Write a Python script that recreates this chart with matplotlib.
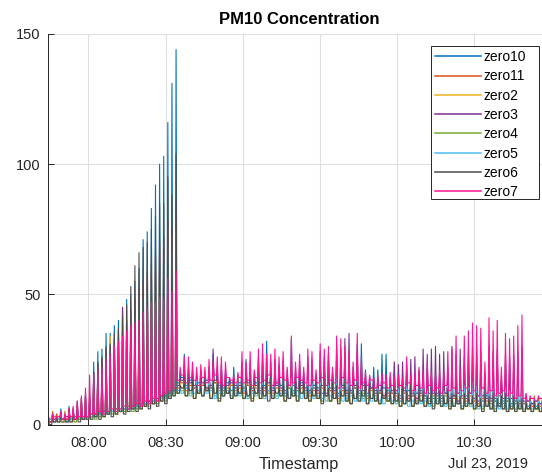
import pandas as pd
import matplotlib
matplotlib.use("Agg")
import matplotlib.pyplot as plt
import matplotlib.dates as mdates
from matplotlib.patches import Rectangle

# Series names and colours (legend order)
names = ["zero10", "zero11", "zero2", "zero3", "zero4", "zero5", "zero6", "zero7"]
colors = ["#0072BD", "#D95319", "#EDB120", "#7E2F8E", "#77AC30", "#4DBEEE", "#4D4D4D", "#FF1493"]

# One cycle every 96 s: background reading (held), then a short spike reading
start_time = pd.Timestamp("2019-07-23 07:43:15")
cycle_s = 96
hold_s = 57
spike_s = 75

zero10_lows = [1, 2, 1, 2, 2, 1, 2, 3, 2, 3,
               3, 3, 4, 4, 5, 4, 5, 6, 5, 6,
               7, 6, 8, 7, 8, 9, 8, 10, 11, 10, 12, 13,
               16, 18, 15, 17, 14, 16, 15, 17, 14, 16, 15, 14, 16, 13, 15,
               16, 14, 15, 13, 16, 14, 15, 13, 14, 16, 15, 13, 14, 15, 13, 16, 14, 13, 15,
               14, 12, 15, 13, 14, 12, 15, 13, 12, 14, 13, 15, 12, 14, 13, 12, 14, 13, 12,
               13, 11, 12, 13, 11, 12, 13, 11, 12, 10, 12, 11, 12, 10, 11, 12, 10, 11, 12,
               10, 11, 9, 11, 10, 9, 11, 10, 9, 10, 8, 9, 8, 9, 8, 9, 8, 9]
zero10_peaks = [3, 4, 4, 6, 5, 7, 6, 8, 10, 12, 10,
                24, 28, 29, 35, 35, 38, 40, 45, 48, 50, 55, 60, 71, 74, 83, 92, 100, 103, 116, 131, 144,
                20, 27, 22, 21, 20, 21, 20, 22, 27, 22, 23, 21, 18, 22, 18,
                24, 25, 24, 20, 25, 27, 32, 24, 25, 23, 25, 21, 33, 21, 24, 20, 26, 25, 19,
                28, 26, 27, 20, 30, 29, 27, 25, 22, 31, 31, 21, 18, 22, 21, 27, 27, 18, 20,
                19, 18, 23, 18, 19, 20, 19, 21, 18, 19, 18, 20, 20, 21, 24, 18, 23, 25, 26,
                26, 25, 18, 27, 25, 27, 17, 24, 23, 24, 26, 28, 11, 10, 9, 10, 9, 10]

zero11_lows = [2, 1, 3, 2, 1, 2, 3, 2, 2, 3,
               3, 3, 4, 4, 4, 5, 5, 6, 5, 6,
               7, 7, 7, 8, 8, 9, 10, 9, 10, 11, 12, 13,
               14, 16, 13, 15, 14, 12, 15, 13, 14, 16, 13, 12, 14, 15, 13,
               14, 12, 15, 13, 14, 12, 13, 15, 12, 14, 13, 11, 14, 12, 13, 14, 12, 11, 13,
               12, 14, 11, 13, 12, 10, 13, 11, 12, 14, 11, 12, 10, 13, 11, 12, 10, 11, 12,
               11, 9, 12, 10, 11, 9, 11, 10, 9, 11, 10, 9, 11, 9, 10, 8, 10, 9, 11,
               9, 8, 10, 9, 8, 9, 7, 8, 9, 7, 8, 7, 8, 6, 7, 6, 7, 6]
zero11_peaks = [3, 5, 4, 5, 4, 6, 5, 7, 8, 10, 9,
                17, 20, 22, 25, 27, 29, 31, 35, 37, 40, 44, 47, 50, 53, 57, 60, 64, 66, 72, 68, 76,
                17, 19, 18, 17, 19, 18, 17, 19, 20, 18, 17, 19, 16, 17, 18,
                19, 17, 18, 16, 19, 18, 17, 19, 16, 17, 19, 18, 20, 17, 18, 16, 19, 18, 17,
                18, 19, 17, 18, 20, 17, 19, 18, 16, 19, 17, 16, 15, 17, 16, 15, 17, 16, 15,
                16, 15, 17, 16, 15, 16, 17, 15, 16, 14, 16, 15, 17, 16, 15, 16, 17, 16, 18,
                17, 16, 15, 17, 16, 18, 14, 16, 15, 17, 16, 18, 11, 10, 11, 10, 11, 12]

zero2_lows = [1, 2, 1, 1, 2, 1, 2, 1, 2, 2,
              2, 3, 3, 4, 3, 4, 5, 4, 5, 5,
              6, 6, 7, 6, 7, 8, 8, 9, 9, 10, 11, 12,
              12, 14, 11, 13, 10, 12, 11, 13, 10, 12, 9, 11, 12, 10, 11,
              12, 10, 11, 9, 12, 10, 11, 13, 10, 12, 11, 9, 10, 11, 9, 12, 10, 9, 11,
              10, 9, 11, 9, 10, 8, 11, 9, 8, 10, 9, 11, 8, 10, 9, 8, 10, 9, 8,
              9, 7, 8, 9, 7, 8, 9, 7, 8, 7, 8, 7, 8, 6, 7, 8, 6, 7, 8,
              6, 7, 6, 7, 6, 5, 7, 6, 5, 6, 5, 6, 5, 6, 5, 6, 5, 6]
zero2_peaks = [2, 4, 3, 4, 5, 5, 6, 7, 9, 11, 10,
               19, 22, 24, 28, 34, 32, 34, 38, 40, 43, 47, 50, 54, 57, 61, 65, 68, 70, 76, 72, 82,
               16, 18, 17, 16, 18, 17, 16, 18, 19, 17, 16, 18, 15, 16, 17,
               18, 16, 17, 15, 18, 17, 16, 18, 15, 16, 18, 17, 19, 16, 17, 15, 18, 17, 16,
               17, 18, 16, 17, 19, 16, 18, 17, 15, 18, 16, 15, 14, 16, 15, 14, 16, 15, 24,
               23, 14, 16, 15, 14, 15, 16, 14, 15, 13, 15, 14, 16, 15, 14, 15, 16, 15, 17,
               16, 15, 14, 16, 15, 17, 13, 15, 14, 16, 15, 17, 10, 9, 10, 9, 10, 9]

zero3_lows = [2, 1, 2, 2, 1, 3, 2, 2, 3, 2,
              3, 4, 3, 4, 5, 4, 5, 5, 6, 6,
              6, 7, 7, 8, 8, 9, 9, 10, 10, 11, 12, 13,
              15, 17, 14, 16, 15, 13, 16, 14, 15, 17, 14, 13, 15, 16, 14,
              15, 13, 16, 14, 15, 13, 14, 16, 13, 15, 14, 12, 15, 13, 14, 15, 13, 12, 14,
              13, 15, 12, 14, 13, 11, 14, 12, 13, 15, 12, 13, 11, 14, 12, 13, 11, 12, 13,
              12, 10, 13, 11, 12, 10, 12, 11, 10, 12, 11, 10, 12, 10, 11, 9, 11, 10, 12,
              10, 9, 11, 10, 9, 10, 8, 9, 10, 8, 9, 8, 9, 7, 8, 7, 8, 7]
zero3_peaks = [2, 4, 3, 5, 4, 6, 6, 9, 10, 11, 12,
               20, 23, 25, 29, 30, 33, 36, 45, 40, 44, 48, 52, 55, 58, 62, 66, 70, 72, 78, 75, 85,
               18, 22, 20, 19, 18, 20, 19, 21, 29, 20, 21, 19, 17, 18, 17,
               22, 20, 21, 18, 22, 24, 21, 20, 22, 21, 20, 18, 24, 19, 21, 18, 23, 22, 18,
               24, 23, 24, 19, 27, 26, 33, 35, 20, 28, 22, 18, 17, 18, 17, 19, 18, 17, 24,
               23, 24, 20, 25, 26, 21, 29, 27, 29, 30, 27, 28, 22, 30, 27, 29, 26, 28, 30,
               29, 28, 20, 30, 28, 29, 19, 27, 26, 27, 28, 30, 10, 9, 9, 8, 9, 8]

zero4_lows = [1, 1, 2, 1, 1, 2, 1, 1, 2, 2,
              2, 3, 2, 3, 3, 4, 4, 4, 5, 5,
              6, 5, 6, 6, 7, 7, 8, 8, 9, 9, 10, 11,
              12, 13, 11, 12, 10, 12, 11, 13, 10, 11, 10, 11, 12, 10, 11,
              12, 10, 11, 10, 12, 10, 11, 12, 10, 11, 11, 9, 10, 11, 9, 12, 10, 9, 11,
              10, 9, 11, 9, 10, 9, 11, 9, 8, 10, 9, 10, 8, 10, 9, 8, 10, 9, 8,
              9, 7, 8, 9, 7, 8, 9, 7, 8, 7, 8, 7, 8, 7, 7, 8, 6, 7, 8,
              6, 7, 6, 7, 6, 6, 7, 6, 5, 6, 6, 6, 5, 6, 5, 6, 5, 6]
zero4_peaks = [2, 3, 2, 3, 3, 4, 4, 5, 7, 8, 8,
               15, 18, 19, 22, 24, 26, 28, 31, 33, 36, 40, 43, 45, 48, 52, 55, 58, 60, 65, 62, 70,
               14, 16, 15, 14, 16, 15, 14, 16, 17, 15, 14, 16, 13, 14, 15,
               16, 14, 15, 13, 16, 15, 14, 16, 13, 14, 16, 15, 17, 14, 15, 13, 16, 15, 14,
               15, 16, 14, 15, 17, 14, 16, 15, 13, 16, 14, 13, 12, 14, 13, 12, 14, 13, 12,
               13, 12, 14, 13, 12, 13, 14, 12, 13, 11, 13, 12, 14, 13, 12, 13, 14, 13, 15,
               14, 13, 12, 14, 13, 15, 11, 13, 12, 14, 13, 15, 9, 8, 9, 8, 9, 8]

zero5_lows = [1, 2, 1, 2, 2, 1, 2, 2, 3, 2,
              3, 3, 3, 4, 4, 4, 5, 5, 5, 6,
              6, 6, 7, 7, 8, 8, 9, 9, 10, 10, 11, 12,
              13, 12, 14, 11, 12, 13, 11, 12, 13, 10, 12, 11, 13, 11, 12,
              11, 13, 10, 12, 11, 12, 10, 13, 11, 10, 12, 11, 10, 12, 11, 10, 11, 12, 10,
              11, 10, 9, 11, 10, 11, 9, 10, 11, 9, 10, 9, 11, 9, 10, 9, 8, 10, 9,
              8, 9, 8, 7, 9, 8, 8, 9, 7, 8, 9, 8, 7, 8, 7, 8, 7, 8, 7,
              7, 6, 7, 7, 6, 7, 6, 7, 6, 7, 6, 7, 6, 7, 6, 7, 6, 7]
zero5_peaks = [2, 3, 3, 4, 3, 4, 5, 6, 7, 9, 9,
               16, 19, 21, 24, 26, 28, 30, 33, 35, 38, 42, 45, 48, 51, 55, 58, 62, 64, 69, 66, 74,
               15, 17, 16, 15, 17, 16, 15, 17, 18, 16, 15, 17, 14, 15, 16,
               17, 15, 16, 14, 17, 16, 15, 17, 14, 15, 17, 16, 18, 15, 16, 14, 17, 16, 15,
               16, 17, 15, 16, 18, 15, 17, 16, 14, 17, 15, 14, 13, 15, 14, 13, 15, 14, 13,
               14, 13, 15, 14, 13, 14, 15, 13, 14, 12, 14, 13, 15, 14, 13, 14, 15, 14, 16,
               15, 14, 13, 15, 14, 16, 12, 14, 13, 15, 14, 16, 10, 9, 10, 9, 10, 9]

zero6_lows = [1, 0, 1, 1, 2, 1, 1, 2, 1, 2,
              2, 2, 3, 2, 3, 4, 3, 4, 5, 4,
              5, 6, 5, 6, 7, 6, 8, 7, 9, 8, 10, 11,
              12, 14, 11, 13, 10, 12, 11, 13, 10, 12, 9, 11, 12, 10, 11,
              12, 10, 11, 9, 12, 10, 11, 9, 10, 12, 11, 9, 10, 11, 9, 12, 10, 9, 11,
              10, 8, 11, 9, 10, 8, 11, 9, 8, 10, 9, 11, 8, 10, 9, 8, 10, 9, 8,
              9, 7, 8, 9, 7, 8, 9, 7, 8, 6, 8, 7, 8, 6, 7, 8, 6, 7, 8,
              6, 7, 5, 7, 6, 5, 7, 6, 5, 6, 5, 6, 5, 6, 5, 6, 5, 6]
zero6_peaks = [2, 3, 3, 4, 3, 5, 5, 6, 8, 10, 9,
               20, 24, 26, 30, 31, 35, 37, 42, 46, 53, 61, 66, 68, 70, 75, 80, 85, 85, 95, 88, 104,
               15, 18, 16, 17, 15, 16, 18, 15, 17, 16, 15, 17, 14, 16, 15,
               17, 15, 16, 14, 17, 15, 16, 18, 14, 15, 17, 16, 14, 15, 17, 16, 15, 14, 16,
               15, 17, 14, 16, 15, 13, 17, 15, 14, 16, 13, 15, 14, 16, 13, 14, 15, 13, 14,
               12, 14, 13, 15, 12, 14, 13, 11, 14, 12, 13, 11, 14, 12, 13, 11, 12, 13, 11,
               12, 10, 13, 11, 12, 10, 11, 12, 10, 11, 9, 10, 9, 8, 9, 8, 9, 8]

zero7_lows = [2, 1, 2, 3, 2, 2, 3, 2, 3, 3,
              3, 4, 4, 5, 4, 5, 6, 5, 6, 7,
              6, 7, 8, 7, 9, 8, 10, 9, 11, 12, 13, 14,
              17, 19, 16, 18, 17, 15, 18, 16, 17, 19, 16, 15, 18, 17, 16,
              18, 16, 17, 15, 18, 16, 17, 19, 15, 16, 18, 17, 15, 16, 18, 17, 16, 15, 17,
              16, 18, 15, 17, 16, 14, 18, 16, 15, 17, 14, 16, 15, 17, 14, 15, 16, 14, 15,
              13, 15, 14, 16, 13, 15, 14, 12, 15, 13, 14, 12, 15, 13, 14, 12, 13, 14, 12,
              13, 11, 14, 12, 13, 11, 12, 13, 11, 12, 10, 11, 10, 9, 10, 9, 10, 9]
zero7_peaks = [3, 4, 3, 5, 4, 6, 7, 9, 11, 14, 19,
               19, 21, 22, 25, 27, 30, 32, 34, 36, 38, 39, 40, 43, 45, 47, 47, 49, 48, 56, 51, 59,
               22, 26, 26, 24, 22, 23, 22, 25, 24, 26, 26, 24, 18, 19, 20,
               28, 24, 28, 21, 29, 31, 27, 27, 29, 26, 28, 22, 34, 24, 27, 22, 29, 28, 21,
               31, 29, 30, 22, 34, 33, 30, 28, 24, 35, 26, 20, 19, 18, 19, 20, 19, 20, 18,
               19, 18, 26, 19, 20, 22, 21, 24, 20, 19, 21, 20, 28, 29, 34, 22, 34, 36, 39,
               38, 37, 24, 41, 36, 40, 22, 35, 33, 34, 38, 42, 12, 11, 10, 11, 10, 9]

lows = [zero10_lows, zero11_lows, zero2_lows, zero3_lows,
        zero4_lows, zero5_lows, zero6_lows, zero7_lows]
peaks = [zero10_peaks, zero11_peaks, zero2_peaks, zero3_peaks,
         zero4_peaks, zero5_peaks, zero6_peaks, zero7_peaks]

tick_times = ["08:00", "08:30", "09:00", "09:30", "10:00", "10:30"]
y_ticks = [0, 50, 100, 150]

plt.rcParams["font.family"] = ["Liberation Sans", "DejaVu Sans"]
text_color = "#262626"

fig = plt.figure(figsize=(5.42, 4.73), dpi=100)
ax = fig.add_axes([48 / 542, 48.5 / 473, 502 / 542, 390.5 / 473])

for name, color, lo, hi in zip(names, colors, lows, peaks):
    times = []
    values = []
    for k, (a, b) in enumerate(zip(lo, hi)):
        t0 = start_time + pd.Timedelta(seconds=k * cycle_s)
        times += [t0, t0 + pd.Timedelta(seconds=hold_s), t0 + pd.Timedelta(seconds=spike_s)]
        values += [a, a, b]
    ax.plot(times, values, color=color, lw=0.8, label=name)

ax.set_xlim(pd.Timestamp("2019-07-23 07:44:20"), pd.Timestamp("2019-07-23 10:59:24"))
ax.set_ylim(0, 150)
ax.set_yticks(y_ticks)
ax.set_xticks([pd.Timestamp("2019-07-23 " + t) for t in tick_times])
ax.xaxis.set_major_formatter(mdates.DateFormatter("%H:%M"))

ax.grid(True, color="#DEDEDE", lw=0.8)
ax.set_axisbelow(True)
for side in ["top", "right"]:
    ax.spines[side].set_visible(False)
for side in ["left", "bottom"]:
    ax.spines[side].set_color(text_color)
    ax.spines[side].set_linewidth(0.7)
ax.tick_params(direction="in", length=4.5, width=0.7, colors=text_color,
               labelsize=10.5)
ax.tick_params(axis="x", pad=8.5)
ax.tick_params(axis="y", pad=5.5)

ax.set_title("PM10 Concentration", fontsize=12, fontweight="bold", color="#000000", pad=7)
ax.set_xlabel("Timestamp", fontsize=11.7, color=text_color, labelpad=5)
fig.text(528 / 542, 1 - 464 / 473, "Jul 23, 2019", ha="right", va="center",
         fontsize=10.5, color=text_color)

# Legend entries without frame; the wider MATLAB-style box is drawn behind them
leg = ax.legend(loc="upper left", bbox_to_anchor=(431 / 542, 1 - 46 / 473),
                bbox_transform=fig.transFigure, fontsize=10, frameon=False,
                borderaxespad=0, handlelength=3.3, handletextpad=0.15,
                labelspacing=0.38, borderpad=0.3)
for line in leg.get_lines():
    line.set_linewidth(1.1)
leg.set_zorder(6)
box = Rectangle((431 / 542, 1 - 199 / 473), 108 / 542, 153 / 473,
                transform=fig.transFigure, facecolor="white",
                edgecolor=text_color, lw=0.7, zorder=5, clip_on=False)
ax.add_patch(box)

fig.savefig("out.png", dpi=100)
